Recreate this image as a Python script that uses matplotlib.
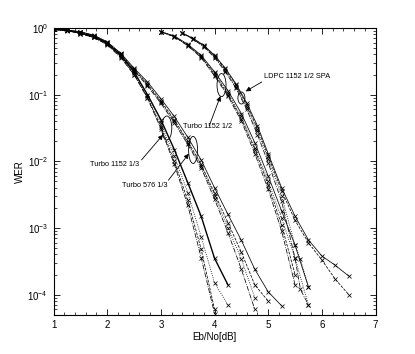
import numpy as np
import matplotlib
matplotlib.use("Agg")
import matplotlib.pyplot as plt
from matplotlib.patches import Ellipse
from matplotlib.ticker import MultipleLocator, LogLocator, NullFormatter

plt.rcParams['font.family'] = ['Liberation Sans', 'DejaVu Sans']
plt.rcParams['mathtext.fontset'] = 'custom'
plt.rcParams['mathtext.rm'] = 'Liberation Sans'

# ---- data (Eb/No in dB, WER) ----
# Turbo 1152 1/3
t1152_13_x = [1.0, 1.25, 1.5, 1.75, 2.0, 2.25, 2.5, 2.75, 3.0, 3.25, 3.5, 3.75, 4.0, 4.25]
t1152_13_solid = [0.95, 0.93, 0.84, 0.74, 0.59, 0.39, 0.22, 0.10, 0.042, 0.015, 4.8e-3, 1.5e-3, 3.5e-4, 1.4e-4]
t1152_13_dot = [0.95, 0.92, 0.83, 0.73, 0.58, 0.38, 0.21, 0.095, 0.037, 0.012, 3.4e-3, 7.4e-4, 1.5e-4, 7e-5]
t1152_13_dash = [0.95, 0.92, 0.82, 0.72, 0.57, 0.37, 0.20, 0.09, 0.033, 0.010, 2.6e-3, 4.8e-4, 6e-5]
t1152_13_dashdot = [0.95, 0.91, 0.82, 0.72, 0.56, 0.36, 0.20, 0.088, 0.031, 9e-3, 2.2e-3, 3.6e-4, 5.2e-5]

# Turbo 576 1/3
t576_13_x = [1.0, 1.25, 1.5, 1.75, 2.0, 2.25, 2.5, 2.75, 3.0, 3.25, 3.5, 3.75, 4.0, 4.25, 4.5, 4.75, 5.0, 5.25]
t576_13_solid = [0.95, 0.93, 0.88, 0.78, 0.62, 0.42, 0.25, 0.155, 0.087, 0.047, 0.023, 0.0105, 4e-3, 1.6e-3, 6.5e-4, 2.4e-4, 1.1e-4, 6.8e-5]
t576_13_dash = [0.95, 0.93, 0.87, 0.77, 0.61, 0.41, 0.24, 0.145, 0.080, 0.042, 0.020, 9e-3, 3.3e-3, 1.2e-3, 4.3e-4, 1.4e-4, 8e-5]
t576_13_dot = [0.95, 0.92, 0.87, 0.77, 0.60, 0.40, 0.235, 0.14, 0.077, 0.040, 0.019, 8.5e-3, 3e-3, 1e-3, 3.4e-4, 9e-5]
t576_13_dashdot = [0.95, 0.92, 0.86, 0.76, 0.60, 0.40, 0.23, 0.135, 0.074, 0.038, 0.018, 8e-3, 2.7e-3, 8.5e-4, 2.4e-4, 6e-5]

# Turbo 1152 1/2
t1152_12_x = [3.0, 3.25, 3.5, 3.75, 4.0, 4.25, 4.5, 4.75, 5.0, 5.25, 5.5, 5.75]
t1152_12_solid = [0.88, 0.76, 0.57, 0.39, 0.22, 0.115, 0.052, 0.019, 6e-3, 1.8e-3, 5.5e-4, 1.3e-4]
t1152_12_dot = [0.88, 0.75, 0.56, 0.38, 0.21, 0.105, 0.047, 0.016, 5e-3, 1.4e-3, 3.5e-4, 7e-5]
t1152_12_dash = [0.87, 0.74, 0.55, 0.37, 0.20, 0.10, 0.043, 0.015, 4.4e-3, 1.1e-3, 2e-4]
t1152_12_dashdot = [0.87, 0.74, 0.54, 0.36, 0.19, 0.095, 0.040, 0.013, 3.8e-3, 9e-4, 1.4e-4]

# LDPC 1152 1/2 SPA
ldpc_x = [3.4, 3.6, 3.8, 4.0, 4.2, 4.4, 4.6, 4.8, 5.0, 5.25, 5.5, 5.75, 6.0, 6.25, 6.5]
ldpc_solid = [0.84, 0.70, 0.55, 0.39, 0.25, 0.145, 0.075, 0.034, 0.013, 4e-3, 1.5e-3, 6.6e-4, 3.8e-4, 2.75e-4, 1.9e-4]
ldpc_dash = [0.84, 0.69, 0.54, 0.38, 0.24, 0.14, 0.07, 0.031, 0.012, 3.6e-3, 1.3e-3, 6e-4, 3.3e-4, 1.7e-4, 1e-4]
ldpc_x2 = [3.4, 3.6, 3.8, 4.0, 4.2, 4.4, 4.6, 4.8, 5.0, 5.25, 5.5, 5.6, 5.75]
ldpc_dot = [0.83, 0.68, 0.53, 0.37, 0.23, 0.13, 0.065, 0.028, 0.011, 3e-3, 5.5e-4, 3.4e-4, 1.3e-4]
ldpc_dashdot = [0.83, 0.68, 0.52, 0.36, 0.22, 0.125, 0.06, 0.025, 9.5e-3, 2.5e-3, 3.5e-4, 1.2e-4, 7e-5]

# annotations: label, text position, arrow tail, arrow tip, ellipse centre, ellipse size (px)
labels = ["LDPC 1152 1/2 SPA", "Turbo 1152 1/2", "Turbo 1152 1/3", "Turbo 576 1/3"]
text_pos = [(4.92, 0.19), (3.41, 0.033), (1.68, 8.9e-3), (2.27, 4.4e-3)]
arrow_tail = [(4.88, 0.155), (3.90, 0.034), (2.64, 0.0105), (3.14, 5.2e-3)]
arrow_tip = [(4.58, 0.112), (4.11, 0.095), (3.04, 0.025), (3.52, 0.013)]
ell_center = [(4.50, 0.089), (4.13, 0.139), (3.11, 0.0316), (3.60, 0.0148)]
ell_size = [(7, 12), (9, 23), (10, 24), (9, 27)]

fig = plt.figure(figsize=(4.15, 3.54), dpi=100)
ax = fig.add_axes([0.129, 0.111, 0.776, 0.810])

mk = dict(marker='x', markersize=3.5, markeredgewidth=0.55, color='k')
ax.plot(t1152_13_x, t1152_13_solid, '-', lw=1.0, **mk)
ax.plot(t1152_13_x, t1152_13_dot, ':', lw=0.6, **mk)
ax.plot(t1152_13_x[:13], t1152_13_dash, '--', lw=0.55, **mk)
ax.plot(t1152_13_x[:13], t1152_13_dashdot, '-.', lw=0.55, **mk)

ax.plot(t576_13_x, t576_13_solid, '-', lw=0.55, **mk)
ax.plot(t576_13_x[:17], t576_13_dash, '--', lw=0.55, **mk)
ax.plot(t576_13_x[:16], t576_13_dot, ':', lw=0.6, **mk)
ax.plot(t576_13_x[:16], t576_13_dashdot, '-.', lw=0.55, **mk)

ax.plot(t1152_12_x, t1152_12_solid, '-', lw=0.55, **mk)
ax.plot(t1152_12_x, t1152_12_dot, ':', lw=0.6, **mk)
ax.plot(t1152_12_x[:11], t1152_12_dash, '--', lw=0.55, **mk)
ax.plot(t1152_12_x[:11], t1152_12_dashdot, '-.', lw=0.55, **mk)

ax.plot(ldpc_x, ldpc_solid, '-', lw=0.55, **mk)
ax.plot(ldpc_x, ldpc_dash, '--', lw=0.55, **mk)
ax.plot(ldpc_x2, ldpc_dot, ':', lw=0.6, **mk)
ax.plot(ldpc_x2, ldpc_dashdot, '-.', lw=0.55, **mk)

ax.set_yscale('log')
ax.set_xlim(1, 7)
ax.set_ylim(5e-5, 1)
ax.xaxis.set_major_locator(MultipleLocator(1))
ax.xaxis.set_minor_locator(MultipleLocator(0.2))
ax.yaxis.set_major_locator(LogLocator(base=10, numticks=10))
ax.yaxis.set_minor_locator(LogLocator(base=10, subs=np.arange(2, 10), numticks=10))
ax.yaxis.set_minor_formatter(NullFormatter())
ax.tick_params(which='both', direction='in', top=True, right=True, labelsize=7, pad=4)
ax.tick_params(which='major', length=4, width=0.6)
ax.tick_params(which='minor', length=2, width=0.5)
for s in ax.spines.values():
    s.set_linewidth(0.8)

ax.set_xlabel("Eb/No[dB]", fontsize=7, labelpad=1)
ax.set_ylabel("WER", fontsize=7, labelpad=2)

fig.canvas.draw()
for i in range(len(labels)):
    ax.text(text_pos[i][0], text_pos[i][1], labels[i], fontsize=5.3, va='center', ha='left')
    ax.annotate('', xy=arrow_tip[i], xytext=arrow_tail[i],
                arrowprops=dict(arrowstyle='-|>', lw=0.6, color='k', mutation_scale=7,
                                shrinkA=0, shrinkB=0))
    cx, cy = ax.transAxes.inverted().transform(ax.transData.transform(ell_center[i]))
    bbox = ax.get_window_extent()
    ax.add_patch(Ellipse((cx, cy), ell_size[i][0] / bbox.width, ell_size[i][1] / bbox.height,
                         transform=ax.transAxes, fill=False, lw=0.6, color='k'))

fig.savefig("out.png", dpi=100)
